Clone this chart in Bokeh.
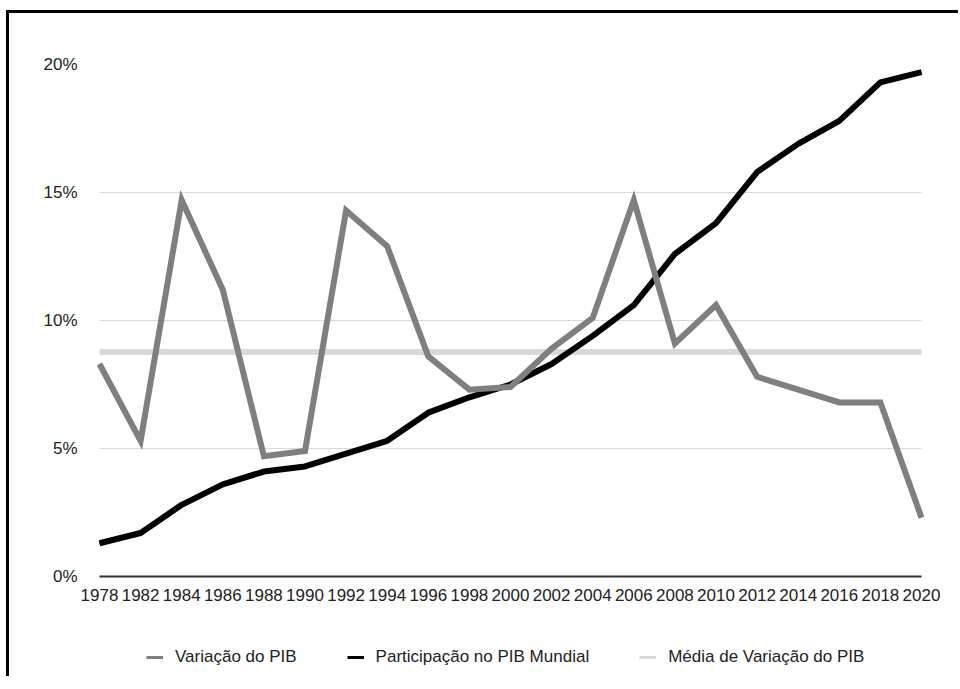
from bokeh.plotting import figure
from bokeh.models import Range1d, FixedTicker, Legend, LegendItem, ColumnDataSource
from bokeh.embed import file_html
from bokeh.resources import INLINE

anos = ["1978", "1982", "1984", "1986", "1988", "1990", "1992", "1994", "1996", "1998",
        "2000", "2002", "2004", "2006", "2008", "2010", "2012", "2014", "2016", "2018", "2020"]
variacao_pib = [8.3, 5.3, 14.7, 11.2, 4.7, 4.9, 14.3, 12.9, 8.6, 7.3,
                7.4, 8.9, 10.1, 14.7, 9.1, 10.6, 7.8, 7.3, 6.8, 6.8, 2.3]
participacao_pib = [1.3, 1.7, 2.8, 3.6, 4.1, 4.3, 4.8, 5.3, 6.4, 7.0,
                    7.5, 8.3, 9.4, 10.6, 12.6, 13.8, 15.8, 16.9, 17.8, 19.3, 19.7]
media_variacao = [8.77, 8.77, 8.77, 8.77, 8.77, 8.77, 8.77, 8.77, 8.77, 8.77,
                  8.77, 8.77, 8.77, 8.77, 8.77, 8.77, 8.77, 8.77, 8.77, 8.77, 8.77]
y_ticks = [0, 5, 10, 15, 20]
y_tick_labels = ["0%", "5%", "10%", "15%", "20%"]
nomes = ["Variação do PIB", "Participação no PIB Mundial", "Média de Variação do PIB"]
cores = ["#7f7f7f", "#000000", "#d9d9d9"]

idx = list(range(len(anos)))
src = ColumnDataSource(dict(x=idx, var=variacao_pib, part=participacao_pib, med=media_variacao))

FONT = "Liberation Sans"
n = len(anos) - 1
pad = 30 / 41.1  # horizontal room (in category steps) for the end tick labels

# frame extends below the 0% line (for the legend) and sideways (for end labels)
p = figure(frame_width=882, frame_height=608,
           min_border_left=60, min_border_right=7, min_border_top=51, min_border_bottom=4,
           x_range=Range1d(-pad, n + pad), y_range=Range1d(-3.75, 20),
           output_backend="svg", toolbar_location=None,
           margin=(10, 0, 0, 6),
           styles={"border-top": "3px solid black", "border-left": "3px solid black"})

p.outline_line_color = None
p.background_fill_color = "white"
p.border_fill_color = "white"

# thin copies (hidden under the thick lines) used as legend swatches
l_med = p.line("x", "med", source=src, line_color=cores[2], line_width=3)
l_part = p.line("x", "part", source=src, line_color=cores[1], line_width=3)
l_var = p.line("x", "var", source=src, line_color=cores[0], line_width=3)

r_med = p.line("x", "med", source=src, line_color=cores[2], line_width=6)
r_part = p.line("x", "part", source=src, line_color=cores[1], line_width=6, line_join="round")
r_var = p.line("x", "var", source=src, line_color=cores[0], line_width=6, line_join="miter")

# axes
p.xaxis.fixed_location = 0
p.xaxis.bounds = (0, n)
p.xaxis.ticker = FixedTicker(ticks=idx)
p.xaxis.major_label_overrides = {i: a for i, a in zip(idx, anos)}
p.xaxis.major_tick_out = 0
p.xaxis.major_tick_in = 0
p.xaxis.minor_tick_line_color = None
p.xaxis.axis_line_color = "#333333"
p.xaxis.axis_line_width = 2
p.xaxis.major_label_standoff = 12
p.xaxis.major_label_text_font = FONT
p.xaxis.major_label_text_font_size = "17px"
p.xaxis.major_label_text_color = "#222222"

p.yaxis.ticker = FixedTicker(ticks=y_ticks)
p.yaxis.major_label_overrides = {t: l for t, l in zip(y_ticks, y_tick_labels)}
p.yaxis.major_tick_out = 0
p.yaxis.major_tick_in = 0
p.yaxis.minor_tick_line_color = None
p.yaxis.axis_line_color = None
p.yaxis.major_label_standoff = -8
p.yaxis.major_label_text_font = FONT
p.yaxis.major_label_text_font_size = "17px"
p.yaxis.major_label_text_color = "#222222"

p.xgrid.grid_line_color = None
p.ygrid.grid_line_color = "#d9d9d9"
p.ygrid.grid_line_width = 1
p.ygrid.cross_bounds = (0, n)

legend = Legend(items=[LegendItem(label=nomes[0], renderers=[l_var]),
                       LegendItem(label=nomes[1], renderers=[l_part]),
                       LegendItem(label=nomes[2], renderers=[l_med])],
                orientation="horizontal", location=(77, 5),
                padding=0, spacing=50, glyph_width=17, glyph_height=20,
                label_standoff=12, border_line_color=None, background_fill_alpha=0,
                label_text_font=FONT, label_text_font_size="17px",
                label_text_color="#222222")
p.add_layout(legend, "center")

open("out.html", "w").write(file_html(p, INLINE))
